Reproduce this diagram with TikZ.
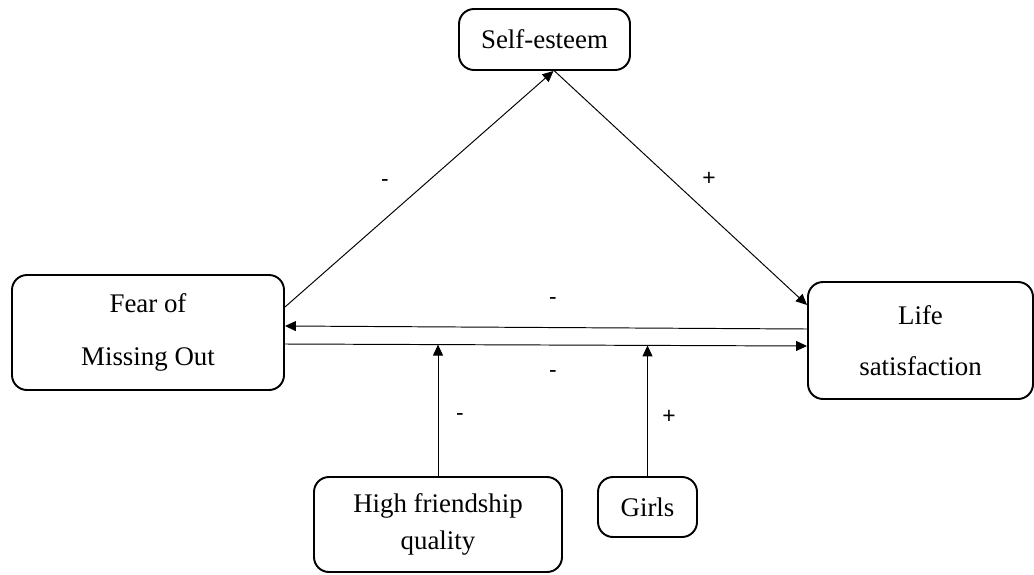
\documentclass[tikz,border=0pt]{standalone}
\usepackage{fontspec}
\setmainfont{Liberation Serif}
\newfontfamily\signfont{Liberation Sans}
\usetikzlibrary{arrows.meta}
\usetikzlibrary{positioning}

\tikzset{
  varbox/.style={draw, line width=1.1pt, rounded corners=0.3cm, align=center, inner sep=0pt},
  link/.style={line width=0.55pt, -{Triangle[length=0.22cm,width=0.2cm]}},
  sign/.style={font=\signfont\fontsize{13}{15}\selectfont}
}

\begin{document}
\begin{tikzpicture}[font=\fontsize{15.3}{18}\selectfont]
    \useasboundingbox (0,0) rectangle (20.68,11.48);
    \node[varbox, minimum width=3.42cm, minimum height=1.22cm] (se) at (10.89,10.69) {Self-esteem};
    \node[varbox, minimum width=5.44cm, minimum height=2.3cm] (fomo) at (2.96,4.83) {Fear of\\[12pt] Missing Out};
    \node[varbox, minimum width=4.5cm, minimum height=2.34cm] (life) at (18.41,4.67) {Life\\[11pt] satisfaction};
    \node[varbox, minimum width=4.96cm, minimum height=1.9cm] (hf) at (8.76,0.99) {High friendship\\[3pt] quality};
    \node[varbox, minimum width=1.98cm, minimum height=1.2cm] (girls) at (12.95,1.34) {Girls};
    \draw[link] ([yshift=0.51cm]fomo.east) -- ([xshift=0.18cm]se.south);
    \draw[link] ([xshift=0.2cm]se.south) -- ([yshift=0.71cm]life.west);
    \draw[link] ([yshift=0.23cm]life.west) -- ([yshift=0.13cm]fomo.east);
    \draw[link] ([yshift=-0.23cm]fomo.east) -- ([yshift=-0.11cm]life.west)
      coordinate[pos=0.294] (hfend) coordinate[pos=0.697] (girlsend);
    \draw[link] (hf.north) -- (hf.north |- hfend);
    \draw[link] (girls.north) -- (girls.north |- girlsend);
    \node[sign] (s1) at (7.7,7.82) {-};
    \node[sign] (s2) at (14.18,7.9) {+};
    \node[sign] (s3) at (11.06,5.46) {-};
    \node[sign] (s4) at (11.06,4.0) {-};
    \node[sign] (s5) at (9.2,3.14) {-};
    \node[sign] (s6) at (13.38,3.14) {+};
\end{tikzpicture}
\end{document}
